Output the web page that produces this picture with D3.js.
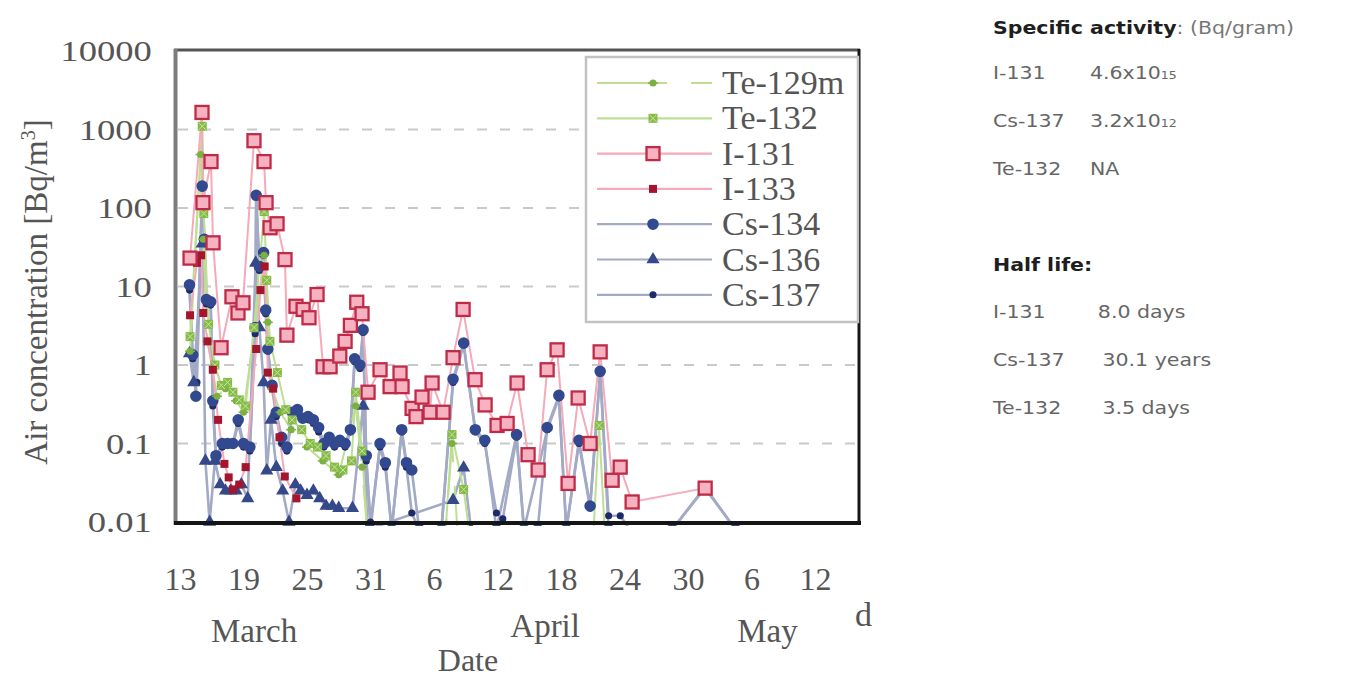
<!DOCTYPE html>
<html>
<head>
<meta charset="utf-8">
<script src="https://cdnjs.cloudflare.com/ajax/libs/d3/7.8.5/d3.min.js"></script>
<style>
  body { margin: 0; background: #fff; }
</style>
</head>
<body>
<script>
// Setup variables
const width = 1353;
const height = 678;

// days are counted from 1 March 2011 (April 6 = 37, May 1 = 62)
const tickDays = [13, 19, 25, 31, 37, 43, 49, 55, 61, 67, 73];
const yTicks = [0.01, 0.1, 1, 10, 100, 1000, 10000];
const yTickLabels = ["0.01", "0.1", "1", "10", "100", "1000", "10000"];
const gridValues = [0.1, 1, 10, 100, 1000];
const monthLabels = ["March", "April", "May"];
const monthDays = [20, 47.5, 68.5];

const seriesNames = ["Te-129m", "Te-132", "I-131", "I-133", "Cs-134", "Cs-136", "Cs-137"];

// Te-129m (values below 0.01 = not detected, drawn under the axis)
const te129mDays = [13.95, 14.95, 15.2, 15.6, 16.5, 17.3, 18.3, 19.0, 20.95, 21.3, 21.7, 22.5, 23.5, 25.0, 26.5, 28.0, 29.6, 30.2, 30.8, 38.0, 38.7, 39.3];
const te129mVals = [1.5, 480, 40, 2.0, 0.4, 0.5, 0.35, 0.25, 25, 3.5, 0.5, 0.25, 0.15, 0.09, 0.06, 0.04, 0.3, 0.05, 0.005, 0.005, 0.1, 0.005];

// Te-132
const te132Days = [13.95, 15.1, 15.25, 15.7, 16.3, 16.9, 17.5, 18.0, 18.6, 19.2, 20.0, 20.95, 21.2, 21.5, 22.2, 23.0, 23.6, 24.5, 25.3, 26.0, 26.8, 27.6, 28.4, 29.2, 29.6, 30.2, 30.8, 38.0, 38.7, 39.8, 40.5, 52.0, 52.6, 53.2];
const te132Vals = [2.3, 1100, 85, 3.3, 1.0, 0.55, 0.6, 0.45, 0.36, 0.3, 3.0, 90, 12, 2.0, 0.8, 0.27, 0.2, 0.15, 0.1, 0.09, 0.07, 0.05, 0.046, 0.06, 0.45, 0.08, 0.005, 0.005, 0.13, 0.026, 0.005, 0.005, 0.17, 0.005];

// I-131
const i131Days = [13.95, 15.08, 15.17, 15.93, 16.12, 16.88, 17.91, 18.48, 18.95, 19.99, 20.94, 21.13, 21.51, 22.17, 22.92, 23.1, 23.96, 24.63, 25.19, 25.95, 26.52, 27.18, 28.1, 28.6, 29.1, 29.7, 30.2, 30.77, 31.9, 32.85, 33.79, 33.98, 34.93, 35.3, 35.87, 36.63, 36.82, 37.86, 38.8, 39.75, 40.88, 41.83, 42.96, 43.91, 44.85, 45.89, 46.84, 47.69, 48.63, 49.67, 50.62, 51.75, 52.7, 53.83, 54.59, 55.72, 62.62];
const i131Vals = [23, 1650, 117, 390, 36, 1.66, 7.4, 4.6, 6.2, 720, 390, 117, 56, 63, 22, 2.4, 5.6, 5.1, 4.0, 7.9, 0.95, 0.95, 1.3, 2.0, 3.2, 6.3, 4.5, 0.45, 0.87, 0.53, 0.79, 0.53, 0.28, 0.22, 0.39, 0.25, 0.59, 0.25, 1.24, 5.1, 0.65, 0.31, 0.17, 0.18, 0.59, 0.072, 0.046, 0.87, 1.56, 0.031, 0.38, 0.10, 1.47, 0.034, 0.05, 0.018, 0.027];

// I-133
const i133Days = [13.95, 14.6, 15.0, 15.2, 15.6, 16.1, 16.6, 17.2, 17.6, 18.0, 18.6, 19.2, 20.2, 20.6, 21.0, 21.3, 21.8, 22.4, 22.9, 24.0];
const i133Vals = [4.3, 20, 25, 4.6, 2.0, 0.87, 0.2, 0.055, 0.037, 0.026, 0.03, 0.05, 1.6, 9, 18, 0.8, 0.5, 0.12, 0.038, 0.02];

// Cs-134
const cs134Days = [13.9, 14.2, 14.5, 15.1, 15.3, 15.5, 15.9, 16.1, 16.4, 17.0, 17.5, 18.0, 18.5, 19.0, 19.6, 20.1, 20.2, 20.5, 20.9, 21.1, 21.3, 21.7, 22.1, 22.6, 23.1, 23.6, 24.1, 24.6, 25.1, 25.6, 26.1, 26.6, 27.1, 27.6, 28.1, 28.6, 29.1, 29.5, 30.0, 30.3, 30.6, 31.0, 31.9, 32.4, 33.0, 33.95, 34.4, 34.9, 35.6, 37.7, 38.8, 39.8, 40.9, 41.8, 42.9, 44.8, 45.5, 46.8, 47.7, 48.8, 49.5, 50.7, 51.75, 52.7, 53.5, 59.5, 62.6, 65.5];
const cs134Vals = [10.5, 1.35, 0.4, 190, 40, 6.8, 6.4, 0.35, 0.07, 0.1, 0.1, 0.1, 0.2, 0.1, 0.09, 3.0, 145, 18, 27, 5.0, 1.6, 0.55, 0.25, 0.12, 0.09, 0.25, 0.27, 0.21, 0.22, 0.2, 0.16, 0.1, 0.12, 0.1, 0.11, 0.1, 0.15, 1.2, 1.0, 2.8, 0.07, 0.008, 0.1, 0.057, 0.008, 0.15, 0.057, 0.046, 0.008, 0.008, 0.66, 1.9, 0.15, 0.11, 0.008, 0.13, 0.008, 0.008, 0.16, 0.41, 0.008, 0.11, 0.016, 0.83, 0.008, 0.008, 0.027, 0.008];

// Cs-136
const cs136Days = [13.9, 14.3, 15.1, 15.4, 15.8, 16.3, 16.8, 17.3, 17.8, 18.3, 18.8, 19.4, 20.15, 20.5, 20.9, 21.2, 21.6, 22.1, 22.7, 23.3, 23.9, 24.4, 25.0, 25.6, 26.2, 26.8, 27.4, 28.0, 29.3, 30.3, 30.7, 38.8, 39.8, 40.5];
const cs136Vals = [1.4, 0.6, 35, 0.06, 0.01, 0.06, 0.03, 0.025, 0.025, 0.025, 0.03, 0.02, 20, 3, 0.6, 0.045, 0.2, 0.05, 0.025, 0.01, 0.03, 0.025, 0.022, 0.025, 0.02, 0.016, 0.016, 0.015, 0.015, 0.3, 0.008, 0.019, 0.049, 0.008];

// Cs-137
const cs137Days = [13.9, 14.2, 14.6, 15.1, 15.3, 15.5, 15.9, 16.1, 16.4, 17.0, 17.5, 18.0, 18.5, 19.0, 19.6, 20.1, 20.2, 20.5, 20.9, 21.1, 21.3, 21.7, 22.1, 22.6, 23.1, 23.6, 24.1, 24.6, 25.1, 25.6, 26.1, 26.6, 27.1, 27.6, 28.1, 28.6, 29.1, 29.5, 30.0, 30.3, 30.6, 31.0, 31.9, 32.4, 33.0, 33.95, 34.4, 34.9, 35.6, 37.7, 38.8, 39.8, 40.9, 41.8, 42.9, 43.5, 44.8, 45.5, 47.7, 48.8, 49.5, 50.7, 51.75, 52.7, 53.5, 54.6, 55.5, 59.5, 62.6, 65.5];
const cs137Vals = [9, 1.2, 0.6, 180, 35, 6, 5.8, 0.3, 0.06, 0.09, 0.1, 0.095, 0.18, 0.09, 0.08, 2.5, 140, 16, 25, 4.5, 1.5, 0.5, 0.22, 0.1, 0.08, 0.22, 0.24, 0.2, 0.2, 0.18, 0.14, 0.09, 0.11, 0.09, 0.1, 0.09, 0.14, 1.1, 0.9, 2.6, 0.06, 0.01, 0.09, 0.05, 0.008, 0.14, 0.05, 0.013, 0.008, 0.008, 0.6, 1.8, 0.14, 0.1, 0.013, 0.011, 0.12, 0.008, 0.15, 0.38, 0.008, 0.1, 0.015, 0.8, 0.012, 0.012, 0.008, 0.008, 0.028, 0.008];

// Text panel on the right
const activityNuclides = ["I-131", "Cs-137", "Te-132"];
const activityValues = ["4.6x10", "3.2x10", "NA"];
const activityExps = ["15", "12", ""];
const halfLifeNuclides = ["I-131", "Cs-137", "Te-132"];
const halfLifeValues = ["8.0 days", "30.1 years", "3.5 days"];

// Build series table
const makePoints = (days, vals) => days.map((d, i) => ({ day: d, val: vals[i] }));
const series = [
  { name: "Cs-137", pts: makePoints(cs137Days, cs137Vals), line: "#a3aac6", marker: "smallDot", fill: "#1f2a68" },
  { name: "Cs-136", pts: makePoints(cs136Days, cs136Vals), line: "#a3aac6", marker: "triangle", fill: "#34488a" },
  { name: "Cs-134", pts: makePoints(cs134Days, cs134Vals), line: "#a3aac6", marker: "circle", fill: "#31498f" },
  { name: "Te-129m", pts: makePoints(te129mDays, te129mVals), line: "#bddf94", marker: "greenDot", fill: "#7bb044", dash: "70,24" },
  { name: "Te-132", pts: makePoints(te132Days, te132Vals), line: "#bddf94", marker: "squareX", fill: "#86bb46" },
  { name: "I-133", pts: makePoints(i133Days, i133Vals), line: "#f4aab8", marker: "smallSquare", fill: "#a3152f" },
  { name: "I-131", pts: makePoints(i131Days, i131Vals), line: "#f4aab8", marker: "openSquare", fill: "#f6b2c0" }
];
const seriesByName = {};
series.forEach(s => seriesByName[s.name] = s);

const toDate = d => new Date(Date.UTC(2011, 2, 1) + (d - 1) * 864e5);

// Scales
const x = d3.scaleUtc()
  .domain([toDate(12.528), toDate(77.25)])
  .range([175, 860]);
const y = d3.scaleLog()
  .domain([0.01, 10000])
  .range([522, 51]);

// Create the svg
const svg = d3.select("body")
  .append("svg")
  .attr("width", width)
  .attr("height", height)
  .style("font-family", "'Liberation Serif', 'Times New Roman', serif");

const defs = svg.append("defs");
defs.append("clipPath").attr("id", "plotClip")
  .append("rect")
  .attr("x", 176).attr("y", 48).attr("width", 684).attr("height", 478);
defs.append("filter").attr("id", "soft")
  .append("feGaussianBlur").attr("stdDeviation", 0.6);

// dashed gridlines
svg.append("g")
  .selectAll("line")
  .data(gridValues)
  .join("line")
  .attr("x1", 178).attr("x2", 858)
  .attr("y1", d => y(d)).attr("y2", d => y(d))
  .attr("stroke", "#c9c9c9")
  .attr("stroke-width", 2)
  .attr("stroke-dasharray", "10,13");

// marker drawing
const drawMarker = (sel, type, fill) => {
  if (type === "openSquare") {
    sel.append("rect").attr("x", -6.5).attr("y", -6.5).attr("width", 13).attr("height", 13)
      .attr("fill", fill).attr("stroke", "#c02c48").attr("stroke-width", 2.3);
  } else if (type === "smallSquare") {
    sel.append("rect").attr("x", -4).attr("y", -4).attr("width", 8).attr("height", 8)
      .attr("fill", fill);
  } else if (type === "squareX") {
    sel.append("rect").attr("x", -4.5).attr("y", -4.5).attr("width", 9).attr("height", 9)
      .attr("fill", fill);
    sel.append("path").attr("d", "M-3.5,-3.5L3.5,3.5M-3.5,3.5L3.5,-3.5")
      .attr("stroke", "#c9e4a6").attr("stroke-width", 1);
  } else if (type === "greenDot") {
    sel.append("path").attr("d", d3.symbol(d3.symbolCircle, 40)())
      .attr("fill", fill);
    sel.append("path").attr("d", "M-5,0H5").attr("stroke", fill).attr("stroke-width", 1.5);
  } else if (type === "circle") {
    sel.append("path").attr("d", d3.symbol(d3.symbolCircle, 105)()).attr("fill", fill);
  } else if (type === "triangle") {
    sel.append("path").attr("d", d3.symbol(d3.symbolTriangle, 75)()).attr("fill", fill);
  } else {
    sel.append("path").attr("d", d3.symbol(d3.symbolCircle, 40)()).attr("fill", fill);
  }
};

// data
const plot = svg.append("g")
  .attr("clip-path", "url(#plotClip)")
  .append("g")
  .attr("filter", "url(#soft)");

const line = d3.line()
  .x(d => x(toDate(d.day)))
  .y(d => y(Math.max(d.val, 0.004)));

series.forEach(s => {
  plot.append("path")
    .datum(s.pts)
    .attr("d", line)
    .attr("fill", "none")
    .attr("stroke", s.line)
    .attr("stroke-width", s.name.startsWith("Cs") ? 2.6 : 2)
    .attr("stroke-dasharray", s.dash || null);
});
series.forEach(s => {
  plot.append("g")
    .selectAll("g")
    .data(s.pts)
    .join("g")
    .attr("transform", d => `translate(${x(toDate(d.day))},${y(d.val)})`)
    .each(function() { drawMarker(d3.select(this), s.marker, s.fill); });
});

// frame of the plot
svg.append("line").attr("x1", 174).attr("x2", 860).attr("y1", 50).attr("y2", 50)
  .attr("stroke", "#555").attr("stroke-width", 3);
svg.append("line").attr("x1", 859).attr("x2", 859).attr("y1", 49).attr("y2", 525)
  .attr("stroke", "#161616").attr("stroke-width", 3);
svg.append("line").attr("x1", 175.5).attr("x2", 175.5).attr("y1", 49).attr("y2", 525)
  .attr("stroke", "#7c7c7c").attr("stroke-width", 4);
svg.append("line").attr("x1", 174).attr("x2", 861).attr("y1", 523).attr("y2", 523)
  .attr("stroke", "#151515").attr("stroke-width", 4);

// y axis
const yAxis = svg.append("g")
  .attr("transform", "translate(175,0)")
  .call(d3.axisLeft(y).tickValues(yTicks).tickSize(0).tickPadding(19)
    .tickFormat((d, i) => yTickLabels[i]));
yAxis.select(".domain").remove();
yAxis.selectAll("text")
  .attr("font-family", "'Liberation Serif', serif")
  .attr("font-size", 30)
  .attr("fill", "#555")
  .attr("transform", "scale(1.22,1)");

// x axis
const xAxis = svg.append("g")
  .attr("transform", "translate(0,522)")
  .call(d3.axisBottom(x).tickValues(tickDays.map(toDate)).tickSize(0).tickPadding(45)
    .tickFormat(d3.utcFormat("%-d")));
xAxis.select(".domain").remove();
xAxis.selectAll("text")
  .attr("font-family", "'Liberation Serif', serif")
  .attr("font-size", 32)
  .attr("fill", "#555");

// month labels and axis titles
svg.append("g")
  .selectAll("text")
  .data(monthLabels)
  .join("text")
  .attr("x", (d, i) => x(toDate(monthDays[i])))
  .attr("y", (d, i) => i === 1 ? 637 : 642)
  .attr("text-anchor", "middle")
  .attr("font-size", 33)
  .attr("fill", "#555")
  .text(d => d);

svg.append("text")
  .attr("x", 855).attr("y", 626)
  .attr("font-size", 34).attr("fill", "#555")
  .text("d");

svg.append("text")
  .attr("x", 468).attr("y", 671)
  .attr("text-anchor", "middle")
  .attr("font-size", 32).attr("fill", "#555")
  .text("Date");

const yLabel = svg.append("text")
  .attr("transform", "translate(47,292) rotate(-90)")
  .attr("text-anchor", "middle")
  .attr("font-size", 33)
  .attr("fill", "#555");
yLabel.append("tspan").text("Air concentration [Bq/m");
yLabel.append("tspan").attr("dy", -12).attr("font-size", 20).text("3");
yLabel.append("tspan").attr("dy", 12).text("]");

// legend
const legend = svg.append("g");
legend.append("rect")
  .attr("x", 586).attr("y", 57).attr("width", 272).attr("height", 265)
  .attr("fill", "#fff").attr("stroke", "#c2c2c2").attr("stroke-width", 2.5);

const legendRows = legend.selectAll("g.row")
  .data(seriesNames)
  .join("g")
  .attr("class", "row")
  .attr("transform", (d, i) => `translate(0,${83 + i * 35.3})`);

legendRows.append("line")
  .attr("x1", 597).attr("x2", 712)
  .attr("stroke", d => seriesByName[d].line)
  .attr("stroke-width", 2.2)
  .attr("stroke-dasharray", d => seriesByName[d].dash || null);

legendRows.append("g")
  .attr("transform", "translate(653,0)")
  .each(function(d) { drawMarker(d3.select(this), seriesByName[d].marker, seriesByName[d].fill); });

legendRows.append("text")
  .attr("x", 722).attr("y", 11)
  .attr("font-size", 34)
  .attr("fill", "#555")
  .text(d => d);

// right text panel
const panel = svg.append("g")
  .attr("transform", "translate(993,0) scale(1.14,1)")
  .style("font-family", "'DejaVu Sans', Verdana, sans-serif")
  .attr("font-size", 18);

const header = panel.append("text").attr("x", 0).attr("y", 34);
header.append("tspan").attr("font-weight", "bold").attr("fill", "#1e1e1e").text("Specific activity");
header.append("tspan").attr("fill", "#777").text(": (Bq/gram)");

activityNuclides.forEach((n, i) => {
  const yy = 79 + i * 48;
  panel.append("text").attr("x", 0).attr("y", yy).attr("fill", "#666").text(n);
  const t = panel.append("text").attr("x", 85).attr("y", yy).attr("fill", "#666");
  t.append("tspan").text(activityValues[i]);
  if (activityExps[i]) t.append("tspan").attr("font-size", 11).text(activityExps[i]);
});

panel.append("text").attr("x", 0).attr("y", 271)
  .attr("font-weight", "bold").attr("fill", "#1e1e1e").text("Half life:");

halfLifeNuclides.forEach((n, i) => {
  const yy = 318 + i * 48;
  panel.append("text").attr("x", 0).attr("y", yy).attr("fill", "#666").text(n);
  panel.append("text").attr("x", i === 0 ? 92 : 96).attr("y", yy).attr("fill", "#666").text(halfLifeValues[i]);
});
</script>
</body>
</html>
